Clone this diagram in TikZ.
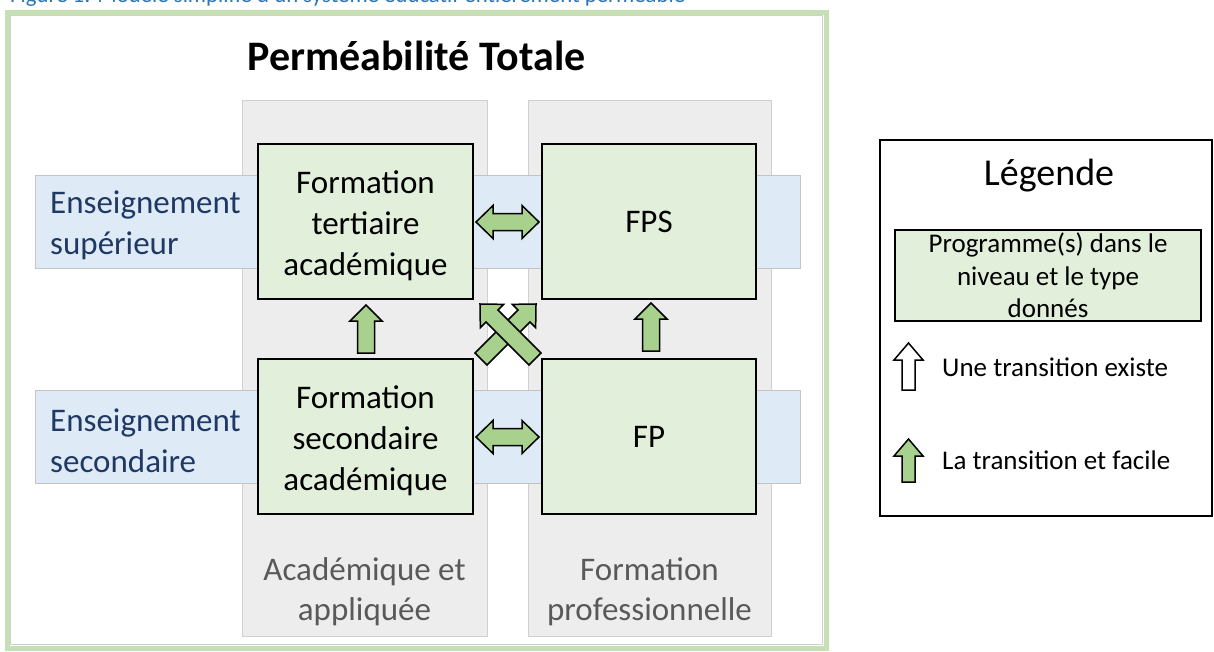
\documentclass[tikz,border=0pt]{standalone}
\usepackage{fontspec}
\setmainfont{Carlito}
\definecolor{boxgreen}{HTML}{E2EFDA}
\definecolor{arrowgreen}{HTML}{A9D18E}
\definecolor{framegreen}{HTML}{C5E0B4}
\definecolor{colgray}{HTML}{EDEDED}
\definecolor{colborder}{HTML}{D0D0D0}
\definecolor{stripblue}{HTML}{DEEBF7}
\definecolor{stripborder}{HTML}{C4C4C4}
\definecolor{levelblue}{HTML}{203864}
\definecolor{textgray}{HTML}{595959}
\definecolor{captionblue}{HTML}{2E75B6}
\tikzset{
  greenbox/.style={draw=black, line width=2pt, fill=boxgreen, inner sep=0pt, align=center},
  boxtext/.style={font=\fontsize{33}{41}\selectfont, align=center, inner sep=0pt},
  arrowgreenstyle/.style={draw=black, line width=1.5pt, fill=arrowgreen, line join=miter},
  arrowwhitestyle/.style={draw=black, line width=1.5pt, fill=white, line join=miter},
  column/.style={draw=colborder, line width=0.8pt, fill=colgray},
  strip/.style={draw=stripborder, line width=0.8pt, fill=stripblue},
  levellabel/.style={text=levelblue, font=\fontsize{33}{41}\selectfont, align=left, inner sep=0pt, anchor=west},
  typelabel/.style={text=textgray, font=\fontsize{33}{40}\selectfont, align=center, inner sep=0pt},
  legendtext/.style={font=\fontsize{27}{32.5}\selectfont, inner sep=0pt}
}
% style, x, y, angle, length, shaft half width, head half width, head length
\newcommand\BlockArrow[8]{%
  \begin{scope}[shift={(#2,#3)},rotate=#4]
    \draw[#1] (0,-#6) -- ({#5-#8},-#6) -- ({#5-#8},-#7) -- (#5,0) -- ({#5-#8},#7) -- ({#5-#8},#6) -- (0,#6) -- cycle;
  \end{scope}}
% x, y, length
\newcommand\DoubleBlockArrow[3]{%
  \begin{scope}[shift={(#1,#2)}]
    \draw[arrowgreenstyle] (0,0) -- (17,-16.5) -- (17,-8.5) -- ({#3-17},-8.5) -- ({#3-17},-16.5) -- (#3,0) -- ({#3-17},16.5) -- ({#3-17},8.5) -- (17,8.5) -- (17,16.5) -- cycle;
  \end{scope}}
\begin{document}
\begin{tikzpicture}[x=1pt,y=-1pt]
\useasboundingbox (0,0) rectangle (1214,651);
\clip (0,0) rectangle (1214,651);
\fill[white] (0,0) rectangle (1214,651);
% caption (cut off at top)
\node[anchor=base west, text=captionblue, font=\fontsize{22.8}{27}\selectfont, inner sep=0pt] (caption) at (10,2.5) {Figure 1: Modèle simplifié d'un système éducatif entièrement perméable};
% outer frame
\draw[framegreen, line width=5pt] (7,12) rectangle (826,648);
\draw[colborder, line width=0.6pt] (10.5,15.5) rectangle (822.5,644.5);
% title
\node[anchor=base, font=\bfseries\fontsize{42}{50}\selectfont, inner sep=0pt] (title) at (416.5,70.5) {Perméabilité Totale};
% columns
\draw[column] (242,100) rectangle (487,636);
\draw[column] (528,100) rectangle (771,636);
% strips
\draw[strip] (35,175) rectangle (800,268);
\draw[strip] (35,390) rectangle (800,483);
% level labels
\node[levellabel] (sup) at (50,225.5) {Enseignement\\supérieur};
\node[levellabel] (sec) at (50,440.5) {Enseignement\\secondaire};
% type labels
\node[typelabel] (acad) at (364.5,591.5) {Académique et\\appliquée};
\node[typelabel] (prof) at (649.5,591.5) {Formation\\professionnelle};
% boxes
\node[greenbox, minimum width=215pt, minimum height=155pt] (tl) at (365.5,221.5) {};
\node[boxtext] (tltext) at ([yshift=-4pt]tl.center) {Formation\\tertiaire\\académique};
\node[greenbox, boxtext, minimum width=214pt, minimum height=155pt] (tr) at (649,221.5) {FPS};
\node[greenbox, minimum width=215pt, minimum height=155pt] (bl) at (365.5,436.5) {};
\node[boxtext] (bltext) at ([yshift=-4pt]bl.center) {Formation\\secondaire\\académique};
\node[greenbox, boxtext, minimum width=214pt, minimum height=155pt] (br) at (649,436.5) {FP};
% vertical arrows
\BlockArrow{arrowgreenstyle}{366}{353}{90}{48}{8.5}{16}{16}
\BlockArrow{arrowgreenstyle}{651}{351}{90}{48}{8.5}{16}{16}
% horizontal double arrows
\DoubleBlockArrow{476}{222}{63}
\DoubleBlockArrow{476}{437}{63}
% crossing arrows
\BlockArrow{arrowgreenstyle}{481}{359}{45}{77.8}{8.5}{16.5}{17}
\BlockArrow{arrowgreenstyle}{535}{359}{135}{77.8}{8.5}{16.5}{17}
% legend
\node[draw=black, line width=2pt, minimum width=332pt, minimum height=376pt, inner sep=0pt] (legend) at (1046,328) {};
\node[font=\fontsize{38}{46}\selectfont, inner sep=0pt] (legtitle) at (1049,175.5) {Légende};
\node[greenbox, legendtext, minimum width=306pt, minimum height=91pt] (legbox) at (1048,275.5) {Programme(s) dans le\\niveau et le type\\donnés};
\BlockArrow{arrowwhitestyle}{908.5}{390}{90}{47}{6.5}{14.5}{17}
\node[legendtext, anchor=west] (legwhite) at (942,367.5) {Une transition existe};
\BlockArrow{arrowgreenstyle}{908.5}{482}{90}{43}{6.5}{14.5}{17}
\node[legendtext, anchor=west] (leggreen) at (942,460) {La transition et facile};
\end{tikzpicture}
\end{document}
